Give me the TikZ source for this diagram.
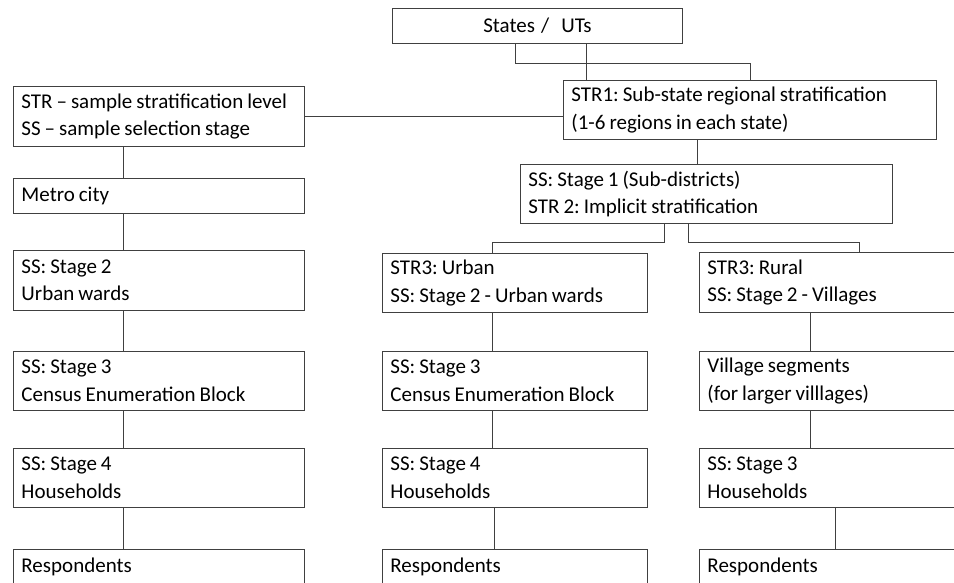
\documentclass[tikz,border=0pt]{standalone}
\usepackage{fontspec}
\setmainfont{Carlito}
\usepackage{tikz}
\usetikzlibrary{calc}
\frenchspacing
\newcommand\boxfont{\fontsize{21}{27.5}\selectfont}
\newcommand\tightspace{\spaceskip=0.19em plus 0.05em minus 0.03em\relax}

\tikzset{
  stagebox/.style={draw=black!75, line width=0.9pt, anchor=north west, align=left,
    inner xsep=8pt, inner ysep=2pt, minimum height=60pt, text width=#1,
    execute at begin node=\tightspace},
  stagebox/.default=275pt,
  oneline/.style={minimum height=35pt},
  link/.style={draw=black!75, line width=0.8pt}
}

\begin{document}
\begin{tikzpicture}[x=1pt,y=-1pt,font=\boxfont]
\useasboundingbox (0,0) rectangle (954,582);
\clip (0,0) rectangle (954,582);

% top of the tree
\node[stagebox=274pt, oneline, align=center] (states) at (392,8) {States / \ UTs};
\node[stagebox=357pt, minimum height=59pt] (str1) at (563,80) {STR1: Sub-state regional stratification\\(1-6 regions in each state)};
\node[stagebox] (legend) at (13,86) {\mbox{STR – sample stratification level}\\SS – sample selection stage};
\node[stagebox=356pt, minimum height=59pt] (stage1) at (520,164) {SS: Stage 1 (Sub-districts)\\STR 2: Implicit stratification};

% left column: metro city
\node[stagebox, oneline] (metro) at (13,178) {Metro city};
\node[stagebox] (wards) at (13,250) {SS: Stage 2\\Urban wards};
\node[stagebox, minimum height=59pt] (metroblock) at (13,351) {SS: Stage 3\\Census Enumeration Block};
\node[stagebox, minimum height=59pt] (metrohh) at (13,448) {SS: Stage 4\\Households};
\node[stagebox, oneline] (metroresp) at (13,549) {Respondents};

% middle column: urban
\node[stagebox=249pt, minimum height=59pt] (urban) at (382,253) {STR3: Urban\\SS: Stage 2 - Urban wards};
\node[stagebox=249pt, minimum height=59pt] (urbanblock) at (382,351) {SS: Stage 3\\Census Enumeration Block};
\node[stagebox=249pt, minimum height=59pt] (urbanhh) at (382,448) {SS: Stage 4\\Households};
\node[stagebox=249pt, oneline] (urbanresp) at (382,549) {Respondents};

% right column: rural
\node[stagebox=252pt] (rural) at (699,252) {STR3: Rural\\SS: Stage 2 - Villages};
\node[stagebox=252pt, minimum height=59pt] (segments) at (699,351) {Village segments\\(for larger villlages)};
\node[stagebox=252pt, minimum height=59pt] (ruralhh) at (699,448) {SS: Stage 3\\Households};
\node[stagebox=252pt, oneline] (ruralresp) at (699,549) {Respondents};

% connectors
\draw[link] ([xshift=123pt]states.south west) -- ++(0,19) -| ([xshift=187pt]str1.north west);
\draw[link] ([xshift=194pt]states.south west) -- ([xshift=23pt]str1.north west);
\draw[link] (legend.east) -- (legend.east -| str1.west);
\draw[link] ([xshift=134pt]str1.south west) -- ([xshift=177pt]stage1.north west);
\draw[link] ([xshift=144pt]stage1.south west) -- ++(0,18) -| ([xshift=110pt]urban.north west);
\draw[link] ([xshift=168pt]stage1.south west) -- ++(0,18) -| ([xshift=160pt]rural.north west);

\draw[link] ([xshift=110pt]legend.south west) -- ([xshift=110pt]metro.north west);
\draw[link] ([xshift=110pt]metro.south west) -- ([xshift=110pt]wards.north west);
\draw[link] ([xshift=110pt]wards.south west) -- ([xshift=110pt]metroblock.north west);
\draw[link] ([xshift=110pt]metroblock.south west) -- ([xshift=110pt]metrohh.north west);
\draw[link] ([xshift=110pt]metrohh.south west) -- ([xshift=110pt]metroresp.north west);

\draw[link] ([xshift=110pt]urban.south west) -- ([xshift=110pt]urbanblock.north west);
\draw[link] ([xshift=110pt]urbanblock.south west) -- ([xshift=110pt]urbanhh.north west);
\draw[link] ([xshift=112pt]urbanhh.south west) -- ([xshift=112pt]urbanresp.north west);

\draw[link] ([xshift=111pt]rural.south west) -- ([xshift=111pt]segments.north west);
\draw[link] ([xshift=111pt]segments.south west) -- ([xshift=111pt]ruralhh.north west);
\draw[link] ([xshift=136pt]ruralhh.south west) -- ([xshift=136pt]ruralresp.north west);
\end{tikzpicture}
\end{document}
